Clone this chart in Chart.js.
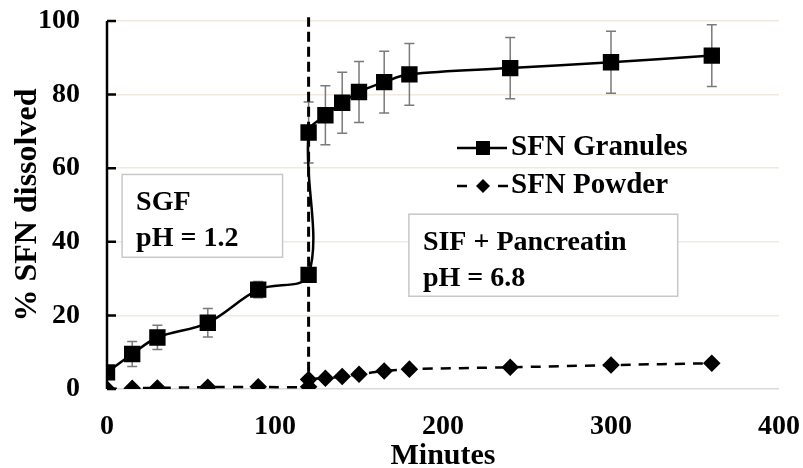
<!DOCTYPE html>
<html><head><meta charset="utf-8">
<script src="https://cdn.jsdelivr.net/npm/chart.js@4"></script>
<style>html,body{margin:0;padding:0;background:#fff}#wrap{width:803px;height:468px;position:relative}</style>
</head><body><div id="wrap"><canvas id="c" width="803" height="468"></canvas></div>
<script>
// ---- data ----
const minutes     = [0, 15, 30, 60, 90, 120, 120, 130, 140, 150, 165, 180, 240, 300, 360];
const granules    = [4.5, 9.5, 14.0, 18.0, 27.0, 31.0, 69.7, 74.4, 77.8, 80.7, 83.4, 85.5, 87.2, 88.8, 90.6];
const granulesErr = [0, 3.4, 3.3, 3.9, 2.2, 0, 8.3, 8.0, 8.3, 8.3, 8.4, 8.4, 8.3, 8.4, 8.4];
const powder      = [0, 0.2, 0.3, 0.5, 0.6, 0.6, 2.6, 2.9, 3.4, 4.0, 4.9, 5.4, 5.9, 6.5, 7.0];
const phaseX      = [120, 120];
const phaseY      = [0.6, 101];
const xTicks      = [0, 100, 200, 300, 400];
const yTicks      = [0, 20, 40, 60, 80, 100];
const seriesNames = ['SFN Granules', 'SFN Powder'];
const xTitle      = 'Minutes';
const yTitle      = '% SFN dissolved';
const sgfLines    = ['SGF', 'pH = 1.2'];
const sifLines    = ['SIF + Pancreatin', 'pH = 6.8'];
// annotation boxes in data units [xMin, xMax, yMax, yMin]
const sgfBox      = [9, 104.5, 58.3, 35.8];
const sifBox      = [179.7, 339.7, 47.5, 25.2];

const FONT = "'Liberation Serif', 'Times New Roman', serif";
const pts = (xs, ys) => xs.map((x, i) => ({x, y: ys[i]}));

const decor = {
  id: 'decor',
  beforeDatasetsDraw(chart) {
    const {ctx, chartArea: a, scales: {x, y}} = chart;
    ctx.save();
    const drawBox = (b, lines) => {
      const l = x.getPixelForValue(b[0]), r = x.getPixelForValue(b[1]);
      const t = y.getPixelForValue(b[2]), btm = y.getPixelForValue(b[3]);
      ctx.fillStyle = '#fff';
      ctx.fillRect(l, t, r - l, btm - t);
      ctx.strokeStyle = '#c8c8c8';
      ctx.lineWidth = 1.5;
      ctx.strokeRect(l, t, r - l, btm - t);
      ctx.fillStyle = '#000';
      ctx.font = 'bold 28px ' + FONT;
      ctx.textBaseline = 'alphabetic';
      ctx.textAlign = 'left';
      ctx.fillText(lines[0], l + 14, t + 36);
      ctx.fillText(lines[1], l + 14, t + 72);
    };
    drawBox(sgfBox, sgfLines);
    drawBox(sifBox, sifLines);
    // y axis line + inward ticks
    ctx.strokeStyle = '#000';
    ctx.lineWidth = 2.5;
    ctx.beginPath();
    ctx.moveTo(a.left, a.top);
    ctx.lineTo(a.left, a.bottom);
    yTicks.forEach(v => {
      const py = y.getPixelForValue(v);
      ctx.moveTo(a.left, py);
      ctx.lineTo(a.left + 9, py);
    });
    ctx.stroke();
    // error bars
    ctx.strokeStyle = '#7a7a7a';
    ctx.lineWidth = 1.5;
    ctx.beginPath();
    minutes.forEach((m, i) => {
      const e = granulesErr[i];
      if (!e) return;
      const px = x.getPixelForValue(m);
      const top = y.getPixelForValue(granules[i] + e);
      const bot = y.getPixelForValue(granules[i] - e);
      ctx.moveTo(px, top); ctx.lineTo(px, bot);
      ctx.moveTo(px - 5, top); ctx.lineTo(px + 5, top);
      ctx.moveTo(px - 5, bot); ctx.lineTo(px + 5, bot);
    });
    ctx.stroke();
    ctx.restore();
  },
  afterDraw(chart) {
    const {ctx} = chart;
    ctx.save();
    ctx.strokeStyle = '#000';
    ctx.fillStyle = '#000';
    ctx.lineWidth = 2.5;
    let ly = 148;
    ctx.beginPath(); ctx.moveTo(457, ly); ctx.lineTo(507, ly); ctx.stroke();
    ctx.fillRect(483 - 7, ly - 7, 14, 14);
    ly = 186;
    ctx.beginPath(); ctx.moveTo(457, ly); ctx.lineTo(467, ly); ctx.moveTo(498, ly); ctx.lineTo(508, ly); ctx.stroke();
    ctx.beginPath(); ctx.moveTo(483, ly - 7); ctx.lineTo(490, ly); ctx.lineTo(483, ly + 7); ctx.lineTo(476, ly); ctx.closePath(); ctx.fill();
    ctx.font = 'bold 29px ' + FONT;
    ctx.textBaseline = 'middle';
    ctx.textAlign = 'left';
    ctx.fillText(seriesNames[0], 511, 148);
    ctx.fillText(seriesNames[1], 511, 186);
    ctx.restore();
  }
};

new Chart(document.getElementById('c'), {
  type: 'scatter',
  data: {
    datasets: [
      {
        label: seriesNames[0], data: pts(minutes, granules), showLine: true,
        borderColor: '#000', backgroundColor: '#000', borderWidth: 2.5, tension: 0.35,
        pointStyle: 'rect', pointRadius: 9.8, pointHoverRadius: 9.8
      },
      {
        label: seriesNames[1], data: pts(minutes, powder), showLine: true,
        borderColor: '#000', backgroundColor: '#000', borderWidth: 2.5, borderDash: [10, 8], tension: 0.2,
        pointStyle: 'rectRot', pointRadius: 7, pointHoverRadius: 7
      },
      {
        label: 'phase', data: pts(phaseX, phaseY), showLine: true, clip: false,
        borderColor: '#000', borderWidth: 3, borderDash: [10, 5], pointRadius: 0
      }
    ]
  },
  options: {
    responsive: false, animation: false, devicePixelRatio: 1,
    layout: {padding: 0},
    plugins: {legend: {display: false}, tooltip: {enabled: false}},
    scales: {
      x: {
        type: 'linear', min: 0, max: 400,
        afterFit: s => { s.height = 79; s.paddingRight = 24; s.paddingLeft = 0; },
        afterBuildTicks: s => { s.ticks = xTicks.map(v => ({value: v})); },
        grid: {display: false, drawTicks: false},
        border: {display: false},
        ticks: {color: '#000', padding: 21, font: {family: FONT, size: 28, weight: 'bold'}},
        title: {display: true, text: xTitle, color: '#000', padding: 0,
                font: {family: FONT, size: 30, weight: 'bold', lineHeight: 0.8}}
      },
      y: {
        min: 0, max: 100,
        afterFit: s => { s.width = 107; s.paddingTop = 21; s.paddingBottom = 0; },
        afterBuildTicks: s => { s.ticks = yTicks.map(v => ({value: v})); },
        grid: {drawTicks: false, lineWidth: 1.5,
               color: c => c.tick && c.tick.value === 0 ? '#d9d9d9' : '#efe9de'},
        border: {display: false},
        ticks: {color: '#000', padding: 27, font: {family: FONT, size: 28, weight: 'bold'}},
        title: {display: true, text: yTitle, color: '#000', padding: {top: 9, bottom: 0},
                font: {family: FONT, size: 32, weight: 'bold'}}
      }
    }
  },
  plugins: [decor]
});
</script></body></html>
